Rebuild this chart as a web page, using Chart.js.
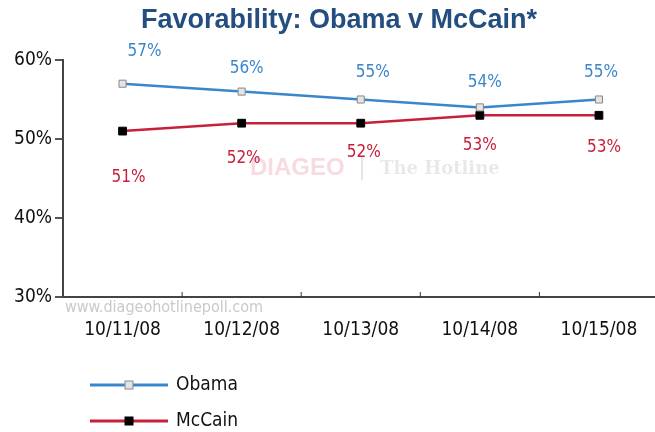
<!DOCTYPE html>
<html lang="en">
<head>
    <meta charset="UTF-8">
    <title>Favorability: Obama v McCain*</title>
    <script src="https://cdn.jsdelivr.net/npm/chart.js"></script>
    <style>
        html, body {
            margin: 0;
            padding: 0;
            background: #fff;
            overflow: hidden;
        }
        #wrap {
            width: 665px;
            height: 432px;
        }
    </style>
</head>
<body>
    <div id="wrap"><canvas id="favChart" width="665" height="432"></canvas></div>

    <script>
        const fechas = ["10/11/08", "10/12/08", "10/13/08", "10/14/08", "10/15/08"];
        const obama = [57, 56, 55, 54, 55];
        const mccain = [51, 52, 52, 53, 53];
        const yTicks = [30, 40, 50, 60];

        // label offsets (px) from each point, as placed in the original
        const obamaDx = [22, 5, 12, 5, 2];
        const obamaDy = [-32, -23, -27, -25, -27];
        const mccainDx = [6, 2, 3, 0, 5];
        const mccainDy = [46, 35, 29, 30, 32];

        const azul = "#3a86cc";
        const rojo = "#c8203a";
        const fuente = "'DejaVu Sans Condensed', 'Liberation Sans', sans-serif";

        const extras = {
            id: "extras",
            afterDatasetsDraw(chart) {
                const ctx = chart.ctx;
                const x = chart.scales.x;
                const y = chart.scales.y;
                const area = chart.chartArea;
                ctx.save();

                // title
                ctx.fillStyle = "#234e7f";
                ctx.font = "bold 27px 'Liberation Sans', Arial, sans-serif";
                ctx.textAlign = "center";
                ctx.textBaseline = "middle";
                ctx.fillText("Favorability: Obama v McCain*", 339, 21);

                // watermark
                ctx.textAlign = "left";
                ctx.font = "bold 24px 'Liberation Sans', Arial, sans-serif";
                ctx.fillStyle = "rgba(215,50,90,0.18)";
                ctx.fillText("DIAGEO", 250, 168);
                ctx.fillStyle = "rgba(0,0,0,0.10)";
                ctx.fillRect(361, 156, 2, 24);
                ctx.font = "bold 18px 'DejaVu Serif', serif";
                ctx.fillStyle = "rgba(0,0,0,0.09)";
                ctx.fillText("The Hotline", 380, 169);
                ctx.font = "16px " + fuente;
                ctx.fillStyle = "#cacaca";
                ctx.fillText("www.diageohotlinepoll.com", 65, 308);

                // small upward ticks between categories
                ctx.strokeStyle = "#333";
                ctx.lineWidth = 1;
                for (let i = 0; i < fechas.length - 1; i++) {
                    const px = (x.getPixelForValue(i) + x.getPixelForValue(i + 1)) / 2;
                    ctx.beginPath();
                    ctx.moveTo(px, area.bottom);
                    ctx.lineTo(px, area.bottom - 5);
                    ctx.stroke();
                }

                // data labels
                ctx.font = "17px " + fuente;
                ctx.textAlign = "center";
                ctx.textBaseline = "middle";
                obama.forEach((v, i) => {
                    ctx.fillStyle = azul;
                    ctx.fillText(v + "%", x.getPixelForValue(i) + obamaDx[i], y.getPixelForValue(v) + obamaDy[i]);
                });
                mccain.forEach((v, i) => {
                    ctx.fillStyle = rojo;
                    ctx.fillText(v + "%", x.getPixelForValue(i) + mccainDx[i], y.getPixelForValue(v) + mccainDy[i]);
                });

                // legend
                const items = [
                    { label: "Obama", color: azul, fill: "#e4e4e4", border: "#888", ly: 385 },
                    { label: "McCain", color: rojo, fill: "#000", border: "#000", ly: 421 }
                ];
                items.forEach(it => {
                    ctx.strokeStyle = it.color;
                    ctx.lineWidth = 3;
                    ctx.beginPath();
                    ctx.moveTo(90, it.ly);
                    ctx.lineTo(168, it.ly);
                    ctx.stroke();
                    ctx.fillStyle = it.fill;
                    ctx.fillRect(125, it.ly - 4, 8, 8);
                    ctx.strokeStyle = it.border;
                    ctx.lineWidth = 1;
                    ctx.strokeRect(125, it.ly - 4, 8, 8);
                    ctx.fillStyle = "#111";
                    ctx.font = "19px " + fuente;
                    ctx.textAlign = "left";
                    ctx.fillText(it.label, 176, it.ly);
                });
                ctx.restore();
            }
        };

        new Chart(document.getElementById("favChart"), {
            type: "line",
            data: {
                labels: fechas,
                datasets: [
                    {
                        label: "Obama",
                        data: obama,
                        borderColor: azul,
                        borderWidth: 2.5,
                        pointStyle: "rect",
                        pointRadius: 5,
                        pointBackgroundColor: "#e4e4e4",
                        pointBorderColor: "#888",
                        pointBorderWidth: 1,
                        tension: 0
                    },
                    {
                        label: "McCain",
                        data: mccain,
                        borderColor: rojo,
                        borderWidth: 2.5,
                        pointStyle: "rect",
                        pointRadius: 5.5,
                        pointBackgroundColor: "#000",
                        pointBorderColor: "#000",
                        pointBorderWidth: 1,
                        tension: 0
                    }
                ]
            },
            options: {
                responsive: false,
                animation: false,
                layout: { padding: { top: 60, bottom: 95, left: 0, right: 2 } },
                plugins: {
                    legend: { display: false },
                    title: { display: false },
                    tooltip: { enabled: false }
                },
                scales: {
                    x: {
                        offset: true,
                        afterFit: s => { s.height = 40; },
                        grid: { display: false },
                        border: { color: "#444", width: 2 },
                        ticks: {
                            padding: 14,
                            color: "#111",
                            font: { size: 19, family: fuente }
                        }
                    },
                    y: {
                        min: 30,
                        max: 60,
                        afterFit: s => { s.width = 63; },
                        afterBuildTicks: s => { s.ticks = yTicks.map(v => ({ value: v })); },
                        grid: { drawOnChartArea: false, drawTicks: true, tickLength: 8, color: "#555", lineWidth: 2 },
                        border: { color: "#444", width: 2 },
                        ticks: {
                            padding: 3,
                            color: "#111",
                            callback: v => v + "%",
                            font: { size: 19, family: fuente }
                        }
                    }
                }
            },
            plugins: [extras]
        });
    </script>
</body>
</html>
